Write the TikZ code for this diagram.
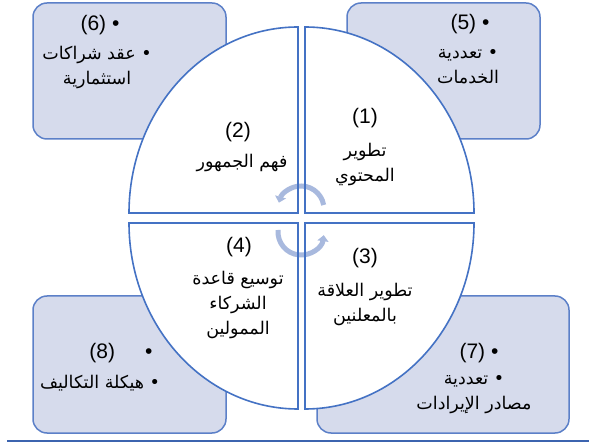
\documentclass[tikz,border=0pt]{standalone}
\usepackage{fontspec}
\setmainfont{Liberation Sans}
\newfontfamily\arabicfont[Script=Arabic]{DejaVu Sans}
\TeXXeTstate=1
\usetikzlibrary{arrows.meta}
\definecolor{quadblue}{RGB}{68,114,196}
\definecolor{boxline}{RGB}{92,128,200}
\definecolor{boxfill}{RGB}{214,219,236}
\definecolor{cyclecol}{RGB}{168,185,222}
\definecolor{rulecol}{RGB}{60,100,175}
\tikzset{
  outerbox/.style={draw=boxline,fill=boxfill,line width=1.5pt,rounded corners=14pt},
  quad/.style={draw=quadblue,line width=1.6pt},
  cyclearrow/.style={draw=cyclecol,line width=5pt,-{Triangle[length=6pt,width=11pt]}},
  num/.style={font=\fontsize{21}{25}\selectfont,inner sep=0pt},
  artext/.style={font=\fontsize{17.5}{25}\selectfont\arabicfont,align=center,inner sep=0pt}
}

\begin{document}
\begin{tikzpicture}[x=1pt,y=-1pt]
  \useasboundingbox (0,0) rectangle (589,446);
  % corner boxes
  \draw[outerbox] (33,3) rectangle (226,139);
  \draw[outerbox] (347,3) rectangle (540,139);
  \draw[outerbox] (33,296) rectangle (226,433);
  \draw[outerbox] (317,296) rectangle (569,433);
  % four quarters of the circle
  \foreach \cx/\cy/\sa/\ea in {298/213/180/270, 305/213/0/-90, 298/223/180/90, 305/223/0/90}
    \fill[white] (\cx,\cy) -- ++(\sa:169 and 186)
      arc[start angle=\sa,end angle=\ea,x radius=169,y radius=186] -- cycle;
  % cycle arrows
  \draw[cyclearrow] (301,209) ++(-10:23) arc[start angle=-10,end angle=-164,radius=23];
  \draw[cyclearrow] (301,232) ++(185:23) arc[start angle=185,end angle=8,radius=23];
  \foreach \cx/\cy/\sa/\ea in {298/213/180/270, 305/213/0/-90, 298/223/180/90, 305/223/0/90}
    \draw[quad] (\cx,\cy) -- ++(\sa:169 and 186)
      arc[start angle=\sa,end angle=\ea,x radius=169,y radius=186] -- cycle;
  % quarter labels
  \node[num] (n1) at (365,118) {(1)};
  \node[artext] (t1) at (365,164) {\beginR تطوير\endR\\\beginR المحتوي\endR};
  \node[num] (n2) at (238,132) {(2)};
  \node[artext] (t2) at (242,163) {\beginR فهم الجمهور\endR};
  \node[num] (n3) at (365,258) {(3)};
  \node[artext] (t3) at (365,304) {\beginR تطوير العلاقة\endR\\\beginR بالمعلنين\endR};
  \node[num] (n4) at (239,247) {(4)};
  \node[artext] (t4) at (238,305) {\beginR توسيع قاعدة\endR\\\beginR الشركاء\endR\\\beginR الممولين\endR};
  % box labels
  \node[num] (n6) at (100,25) {(6)~•};
  \node[artext] (t6) at (97,67) {\beginR • عقد شراكات\endR\\\beginR استثمارية\endR};
  \node[num] (n5) at (470,24) {(5)~•};
  \node[artext] (t5) at (468,67) {\beginR • تعددية\endR\\\beginR الخدمات\endR};
  \node[num] (n8) at (121,353) {(8)\hspace{30pt}•};
  \node[artext] (t8) at (100,383) {\beginR • هيكلة التكاليف\endR};
  \node[num] (n7) at (479,353) {(7)~•};
  \node[artext] (t7) at (474,395) {\beginR • تعددية\endR\\\beginR مصادر الإيرادات\endR};
  % base rule
  \coordinate (ruleL) at (7,441);
  \coordinate (ruleR) at (589,441);
  \draw[rulecol,line width=1.2pt] (ruleL) -- (ruleR);
\end{tikzpicture}
\end{document}
